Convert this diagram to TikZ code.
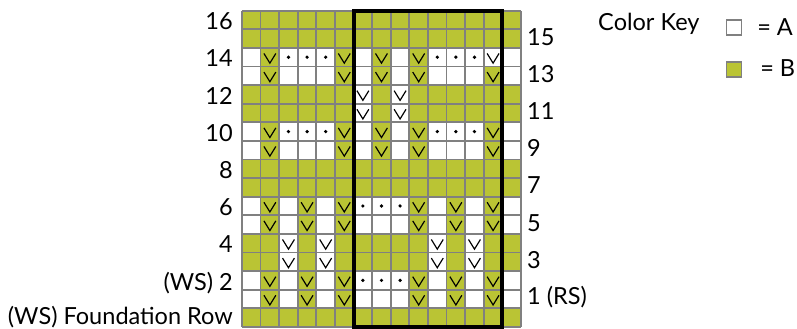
\documentclass[tikz,border=0pt]{standalone}
\usepackage{fontspec}
\setmainfont{Lato}
\definecolor{chartgreen}{RGB}{186,196,52}
\definecolor{gridgray}{RGB}{128,128,128}

\begin{document}
\begin{tikzpicture}[
  x=0.5cm,y=0.5cm,
  cell/.style={minimum size=0.5cm,inner sep=0pt,outer sep=0pt},
  st/g/.style={cell,fill=chartgreen},
  st/w/.style={cell,fill=white},
  slip/.style={path picture={\draw[black,line width=0.9pt]
      ([xshift=-0.16cm,yshift=0.1cm]path picture bounding box.center)
      -- ([yshift=-0.16cm]path picture bounding box.center)
      -- ([xshift=0.16cm,yshift=0.1cm]path picture bounding box.center);}},
  bump/.style={path picture={\fill[black] (path picture bounding box.center) circle (1.4pt);}},
  st/v/.style={st/g,slip},
  st/x/.style={st/w,slip},
  st/d/.style={st/w,bump},
  kind/.style={st/#1},
  gridline/.style={gridgray,line width=1.4pt},
  frame/.style={black,line width=3pt},
  rowlab/.style={font=\fontsize{18}{18}\selectfont,inner sep=0pt},
  keylab/.style={font=\fontsize{18}{18}\selectfont,inner sep=0pt},
  keybox/.style={draw=gridgray,line width=1pt,minimum size=0.4cm,inner sep=0pt}
]
  \useasboundingbox (-13.01,-0.113) rectangle (29.84,17.575);

  \foreach \r/\cells in {
    16/{g,g,g,g,g,g,g,g,g,g,g,g,g,g,g},
    15/{g,g,g,g,g,g,g,g,g,g,g,g,g,g,g},
    14/{w,v,d,d,d,v,w,v,w,v,d,d,d,x,w},
    13/{w,v,w,w,w,v,w,v,w,v,w,w,w,v,w},
    12/{g,g,g,g,g,g,x,g,x,g,g,g,g,g,g},
    11/{g,g,g,g,g,g,x,g,x,g,g,g,g,g,g},
    10/{w,v,d,d,d,v,w,v,w,v,d,d,d,v,w},
    9/{w,v,w,w,w,v,w,v,w,v,w,w,w,v,w},
    8/{g,g,g,g,g,g,g,g,g,g,g,g,g,g,g},
    7/{g,g,g,g,g,g,g,g,g,g,g,g,g,g,g},
    6/{w,v,w,v,w,v,d,d,d,v,w,v,w,v,w},
    5/{w,v,w,v,w,v,w,w,w,v,w,v,w,v,w},
    4/{g,g,x,g,x,g,g,g,g,g,x,g,x,g,g},
    3/{g,g,x,g,x,g,g,g,g,g,x,g,x,g,g},
    2/{w,v,w,v,w,v,d,d,d,v,w,v,w,v,w},
    1/{w,v,w,v,w,v,w,w,w,v,w,v,w,v,w},
    0/{g,g,g,g,g,g,g,g,g,g,g,g,g,g,g}}
  {
    \foreach \c [count=\i] in \cells
      \node[kind/.expanded=\c] (c\r-\i) at (\i-0.5,\r+0.5) {};
  }

  \draw[gridline,step=0.5cm] (c0-1.south west) grid (c16-15.north east);
  \draw[frame] (c16-7.north west) rectangle (c0-14.south east);

  \foreach \r in {16,14,...,4}
    \node[rowlab,anchor=base east] (l\r) at ([xshift=-0.24cm,yshift=-0.01cm]c\r-1.south west) {\r};
  \node[rowlab,anchor=base east] (l2) at ([xshift=-0.24cm,yshift=-0.01cm]c2-1.south west) {(WS) 2};
  \node[rowlab,anchor=base east] (l0) at ([xshift=-0.24cm,yshift=0.07cm]c0-1.south west) {(WS) Foundation Row};

  \foreach \r in {15,13,...,3}
    \node[rowlab,anchor=west] (r\r) at ([xshift=0.16cm,yshift=0.05cm]c\r-15.east) {\r};
  \node[rowlab,anchor=west] (r1) at ([xshift=0.16cm,yshift=0.05cm]c1-15.east) {1 (RS)};

  \node[keylab,anchor=base west] (key) at (19.14,15.91) {Color Key};
  \node[keybox,fill=white] (boxa) at (26.45,16.10) {};
  \node[keybox,fill=chartgreen] (boxb) at (26.45,13.84) {};
  \node[keylab,anchor=base west] (laba) at (27.69,15.69) {= A};
  \node[keylab,anchor=base west] (labb) at (27.85,13.44) {= B};
\end{tikzpicture}
\end{document}
